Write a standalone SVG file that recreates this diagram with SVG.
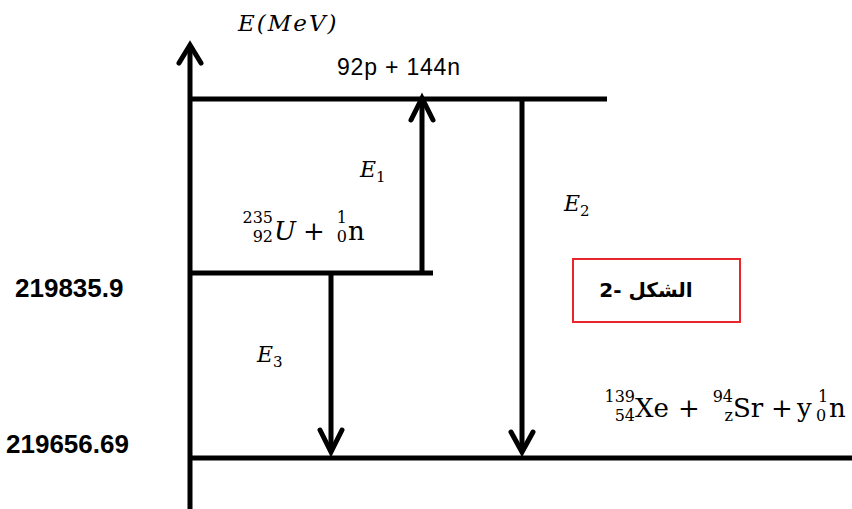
<svg xmlns="http://www.w3.org/2000/svg" width="852" height="509" viewBox="0 0 852 509">
<style>
.ln{stroke:#000;stroke-width:5;fill:none;stroke-linecap:butt}
.ah{stroke:#000;stroke-width:5;fill:none;stroke-linecap:round;stroke-linejoin:miter}
.m{font-family:"DejaVu Serif","Liberation Serif",serif;fill:#000}
.mi{font-family:"DejaVu Serif","Liberation Serif",serif;font-style:italic;fill:#000}
.sc{font-family:"DejaVu Serif","Liberation Serif",serif;font-size:16px;fill:#000}
.val{font-family:"Liberation Sans",Arial,sans-serif;font-weight:bold;font-size:26px;fill:#000}
.sans{font-family:"Liberation Sans",Arial,sans-serif;font-size:23px;fill:#000}
</style>
<rect width="852" height="509" fill="#fff"/>
<g id="axis">
<line class="ln" x1="190" y1="509" x2="190" y2="46"/>
<polyline class="ah" points="179,63 190,45 201,63"/>
<text class="mi" x="238" y="31" font-size="23" letter-spacing="2">E(MeV)</text>
</g>
<g id="level-top">
<line class="ln" x1="188" y1="99" x2="607" y2="99"/>
<text class="sans" x="337" y="75" letter-spacing="0.8">92p + 144n</text>
</g>
<g id="level-mid">
<line class="ln" x1="188" y1="273" x2="433" y2="273"/>
<text class="val" x="15" y="297">219835.9</text>
<text class="sc" x="273" y="223" text-anchor="end">235</text>
<text class="sc" x="273" y="242" text-anchor="end">92</text>
<text class="mi" x="274" y="240" font-size="26">U</text>
<text class="m" x="314" y="240" font-size="26" text-anchor="middle">+</text>
<text class="sc" x="347" y="223" text-anchor="end">1</text>
<text class="sc" x="347" y="242" text-anchor="end">0</text>
<text class="m" x="348" y="240" font-size="26">n</text>
</g>
<g id="level-bottom">
<line class="ln" x1="188" y1="458" x2="852" y2="458"/>
<text class="val" x="6" y="453">219656.69</text>
<text class="sc" x="635" y="402" text-anchor="end">139</text>
<text class="sc" x="635" y="421" text-anchor="end">54</text>
<text class="m" x="635" y="417" font-size="26">Xe</text>
<text class="m" x="689" y="417" font-size="26" text-anchor="middle">+</text>
<text class="sc" x="733" y="402" text-anchor="end">94</text>
<text class="sc" x="733" y="421" text-anchor="end">z</text>
<text class="m" x="733" y="417" font-size="26">Sr</text>
<text class="m" x="782" y="417" font-size="26" text-anchor="middle">+</text>
<text class="m" x="797" y="417" font-size="26">y</text>
<text class="sc" x="818" y="402">1</text>
<text class="sc" x="816" y="421">0</text>
<text class="m" x="829" y="417" font-size="26">n</text>
</g>
<g id="connectors">
<g id="E1">
<line class="ln" x1="422" y1="275" x2="422" y2="99"/>
<polyline class="ah" points="411,120 422,98 433,120"/>
<text class="mi" x="360" y="177" font-size="22">E<tspan font-size="15" dy="5" font-style="normal">1</tspan></text>
</g>
<g id="E2">
<line class="ln" x1="522" y1="97" x2="522" y2="452"/>
<polyline class="ah" points="511,432 522,452 533,432"/>
<text class="mi" x="564" y="211" font-size="22">E<tspan font-size="15" dy="5" font-style="normal">2</tspan></text>
</g>
<g id="E3">
<line class="ln" x1="331" y1="271" x2="331" y2="452"/>
<polyline class="ah" points="320,430 331,452 342,430"/>
<text class="mi" x="257" y="362" font-size="22">E<tspan font-size="15" dy="5" font-style="normal">3</tspan></text>
</g>
</g>
<g id="label">
<rect x="573" y="259" width="167" height="63" fill="none" stroke="#e8262b" stroke-width="2"/>
<text x="646" y="297" font-family="'DejaVu Sans','Noto Sans',sans-serif" font-weight="bold" font-size="20" direction="rtl" text-anchor="middle">الشكل -2</text>
</g>
</svg>
